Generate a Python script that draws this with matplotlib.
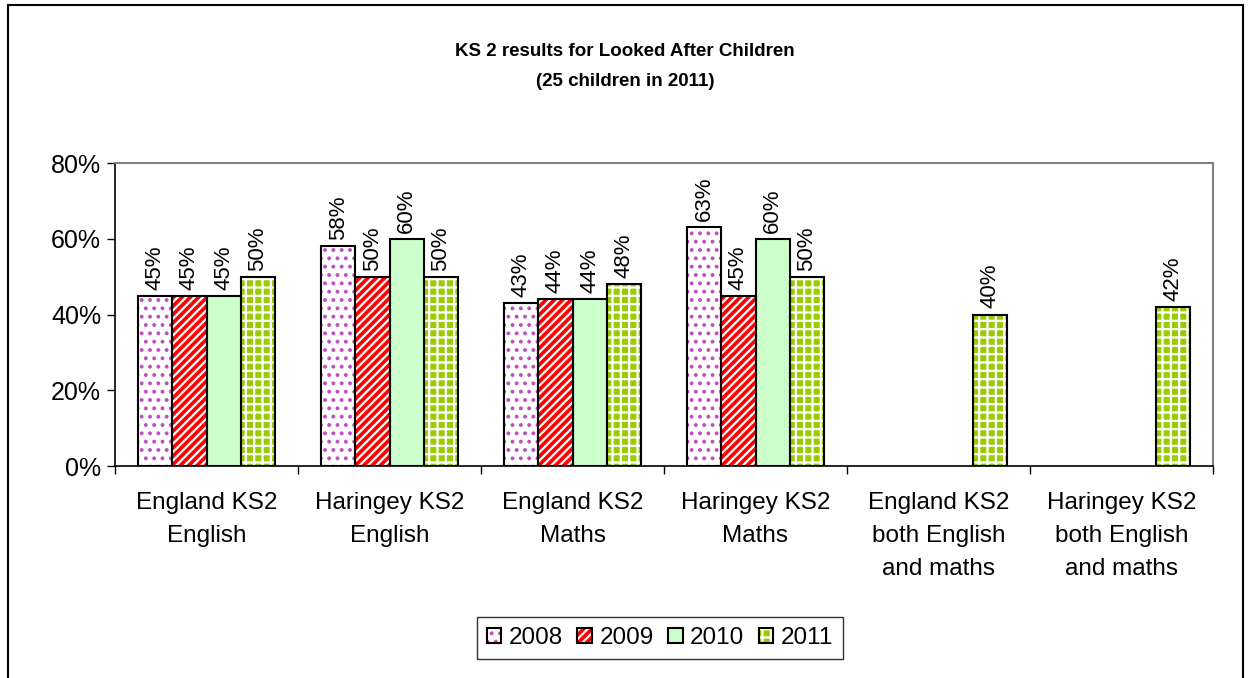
import matplotlib
matplotlib.use("Agg")
import numpy as np
import matplotlib.pyplot as plt
from matplotlib.patches import Rectangle
from matplotlib.legend_handler import HandlerTuple

plt.rcParams["font.family"] = ["Liberation Sans", "DejaVu Sans"]
plt.rcParams["hatch.linewidth"] = 1.6

categories = [
    "England KS2\nEnglish",
    "Haringey KS2\nEnglish",
    "England KS2\nMaths",
    "Haringey KS2\nMaths",
    "England KS2\nboth English\nand maths",
    "Haringey KS2\nboth English\nand maths",
]
years = ["2008", "2009", "2010", "2011"]
v2008 = [45, 58, 43, 63, np.nan, np.nan]
v2009 = [45, 50, 44, 45, np.nan, np.nan]
v2010 = [45, 60, 44, 60, np.nan, np.nan]
v2011 = [50, 50, 48, 50, 40, 42]
series = [v2008, v2009, v2010, v2011]

# (face colour, hatch, hatch colour)
styles = [
    ("white", "..", "#C050C0"),
    ("#FF0000", "////", "white"),
    ("#CCFFCC", "", None),
    ("#99CC00", "++", "white"),
]

fig = plt.figure(figsize=(12.49, 6.78), dpi=100)
fig.patches.append(Rectangle((8 / 1249, -0.01), 1235 / 1249, 1 - 5 / 678 + 0.01,
                             transform=fig.transFigure, fill=False,
                             edgecolor="black", linewidth=1.5))
ax = fig.add_axes([115 / 1249, 1 - 466 / 678, 1098 / 1249, 303 / 678])

x = np.arange(len(categories))
width = 0.186
offsets = (np.arange(4) - 1.5) * width

handles = []
for vals, off, (fc, hatch, hc) in zip(series, offsets, styles):
    vals = np.array(vals, dtype=float)
    ok = ~np.isnan(vals)
    xs = x[ok] + off
    if hatch:
        fill = ax.bar(xs, vals[ok], width, color=fc, edgecolor=hc, hatch=hatch,
                      linewidth=0, zorder=2)
    else:
        fill = ax.bar(xs, vals[ok], width, color=fc, linewidth=0, zorder=2)
    frame = ax.bar(xs, vals[ok], width, fill=False, edgecolor="black",
                   linewidth=1.5, zorder=3)
    handles.append((fill, frame))
    for xi, v in zip(xs, vals[ok]):
        ax.text(xi, v + 1.6, f"{v:.0f}%", rotation=90, ha="center",
                va="bottom", fontsize=16)

ax.set_xlim(-0.5, len(categories) - 0.5)
ax.set_ylim(0, 80)
ax.set_yticks(np.arange(0, 81, 20))
ax.set_yticklabels([f"{t}%" for t in range(0, 81, 20)], fontsize=18)
ax.set_xticks(x)
ax.set_xticklabels(categories, fontsize=17.5, linespacing=1.65)
ax.tick_params(axis="x", length=0, pad=19)
ax.set_xticks(np.arange(-0.5, len(categories)), minor=True)
ax.tick_params(axis="x", which="minor", length=6, width=1, direction="out")
ax.tick_params(axis="y", length=6, width=1, direction="out", pad=4)

for side in ["top", "right"]:
    ax.spines[side].set_color("#808080")
    ax.spines[side].set_linewidth(1.5)
for side in ["left", "bottom"]:
    ax.spines[side].set_color("black")
    ax.spines[side].set_linewidth(1.2)

fig.text(625 / 1249, 1 - 52 / 678, "KS 2 results for Looked After Children",
         ha="center", va="center", fontsize=13.5, fontweight="bold")
fig.text(625 / 1249, 1 - 82 / 678, "(25 children in 2011)",
         ha="center", va="center", fontsize=13.5, fontweight="bold")

leg = fig.legend(handles=handles, labels=years, loc="center", ncol=4,
                 handler_map={tuple: HandlerTuple(ndivide=1)},
                 bbox_to_anchor=(660 / 1249, 1 - 638 / 678), fontsize=17.5,
                 frameon=True, fancybox=False, edgecolor="black",
                 handlelength=0.6, handleheight=0.6, handletextpad=0.3,
                 columnspacing=0.6, borderpad=0.4)
leg.get_frame().set_linewidth(1.0)

fig.savefig("out.png", dpi=100)
